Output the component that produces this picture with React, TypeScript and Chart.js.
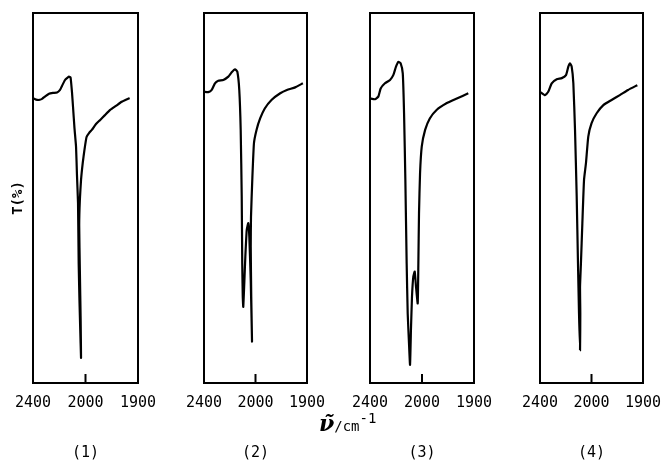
import React, { useEffect, useRef } from 'react';
import { Chart, registerables } from 'chart.js';

Chart.register(...registerables);

// ---- tick labels / texts ----
const xTickWavenumbers = [2400, 2000, 1900];
const xTickLabels = ['2400', '2000', '1900'];
const panelLabels = ['(1)', '(2)', '(3)', '(4)'];
const yAxisTitle = 'T(%)';

// ---- spectrum (1) ----
const spectrum1Wavenumber = [2400, 2377, 2354, 2331, 2309, 2278, 2248, 2217, 2194, 2179, 2156, 2141, 2126, 2114, 2103, 2095, 2084, 2072, 2065, 2057, 2052, 2046, 2040, 2034, 2037, 2043, 2048, 2043, 2034, 2021, 2008, 1998, 1993, 1988, 1980, 1972, 1963, 1953, 1942, 1931, 1924, 1916];
const spectrum1Transmittance = [77.0, 76.6, 76.5, 76.8, 77.4, 78.2, 78.4, 78.5, 79.2, 80.3, 81.9, 82.4, 82.8, 82.6, 78.6, 74.6, 68.9, 63.8, 56.2, 48.6, 32.4, 22.4, 14.3, 6.8, 17.0, 30.5, 42.7, 49.5, 54.9, 59.5, 63.0, 66.5, 67.6, 68.4, 70.0, 71.1, 72.4, 73.8, 74.9, 76.0, 76.5, 77.0];

// ---- spectrum (2) ----
const spectrum2Wavenumber = [2400, 2367, 2340, 2315, 2289, 2250, 2211, 2185, 2159, 2141, 2126, 2115, 2107, 2103, 2099, 2095, 2087, 2079, 2068, 2056, 2048, 2037, 2027, 2033, 2037, 2035, 2025, 2012, 1998, 1991, 1982, 1969, 1952, 1939, 1923, 1908];
const spectrum2Transmittance = [78.7, 78.6, 79.2, 81.0, 81.7, 81.9, 82.8, 84.0, 84.8, 84.1, 79.2, 68.4, 50.4, 32.4, 23.3, 20.6, 27.0, 34.1, 41.4, 43.2, 39.5, 27.8, 11.2, 23.3, 36.8, 44.9, 54.9, 64.8, 68.4, 71.5, 74.2, 76.5, 78.3, 79.2, 79.9, 81.0];

// ---- spectrum (3) ----
const spectrum3Wavenumber = [2400, 2362, 2336, 2318, 2285, 2246, 2221, 2200, 2182, 2164, 2148, 2138, 2128, 2118, 2110, 2100, 2092, 2085, 2077, 2067, 2056, 2046, 2033, 2028, 2023, 2015, 2002, 1994, 1985, 1972, 1953, 1933, 1911];
const spectrum3Transmittance = [76.9, 76.7, 77.4, 79.6, 81.0, 81.9, 83.2, 85.5, 86.8, 86.4, 83.7, 72.9, 54.9, 32.4, 18.8, 10.7, 4.9, 14.3, 23.3, 28.7, 30.1, 26.0, 21.5, 32.4, 45.9, 56.7, 63.9, 68.4, 71.5, 73.8, 75.6, 76.9, 78.3];

// ---- spectrum (4) ----
const spectrum4Wavenumber = [2400, 2361, 2336, 2309, 2270, 2231, 2198, 2180, 2167, 2154, 2141, 2128, 2115, 2105, 2097, 2089, 2087, 2089, 2082, 2071, 2058, 2043, 2025, 2000, 1990, 1977, 1961, 1945, 1929, 1911];
const spectrum4Transmittance = [78.7, 77.8, 78.7, 81.0, 82.1, 82.4, 83.2, 85.5, 86.4, 85.5, 81.0, 68.4, 50.4, 32.4, 18.8, 8.9, 18.8, 26.0, 32.4, 43.2, 54.9, 59.4, 66.6, 70.2, 72.9, 75.1, 76.5, 77.8, 79.2, 80.5];

const spectraWavenumber = [spectrum1Wavenumber, spectrum2Wavenumber, spectrum3Wavenumber, spectrum4Wavenumber];
const spectraTransmittance = [spectrum1Transmittance, spectrum2Transmittance, spectrum3Transmittance, spectrum4Transmittance];

// ---- layout (positions, not data) ----
const PANEL_LEFT = [33, 204, 370, 540];
const PANEL_WIDTH = [105, 103, 104, 103];
const SIDE = 30;
const CANVAS_H = 470;

// scale change at 2000 cm-1: 2400→2000 fills first half, 2000→1900 second half
function toAxisUnit(w: number): number {
  return w >= 2000 ? (2400 - w) / 400 : 1 + (2000 - w) / 100;
}

const framePlugin = {
  id: 'frameAndTick',
  afterDraw(chart: any) {
    const { ctx, chartArea: a, scales } = chart;
    ctx.save();
    ctx.strokeStyle = '#000';
    ctx.lineWidth = 2;
    ctx.strokeRect(a.left, a.top, a.right - a.left, a.bottom - a.top);
    const x = scales.x.getPixelForValue(toAxisUnit(2000));
    ctx.beginPath();
    ctx.moveTo(x, a.bottom);
    ctx.lineTo(x, a.bottom - 9);
    ctx.stroke();
    ctx.restore();
  },
};

function Panel({ idx }: { idx: number }) {
  const ref = useRef<HTMLCanvasElement>(null);
  const w = PANEL_WIDTH[idx] + SIDE * 2;
  useEffect(() => {
    const wn = spectraWavenumber[idx];
    const tr = spectraTransmittance[idx];
    const chart = new Chart(ref.current as HTMLCanvasElement, {
      type: 'line',
      data: {
        datasets: [
          {
            data: wn.map((v, i) => ({ x: toAxisUnit(v), y: tr[i] })),
            borderColor: '#000',
            borderWidth: 2.2,
            pointRadius: 0,
            tension: 0.15,
            fill: false,
          },
        ],
      },
      options: {
        animation: false,
        responsive: false,
        maintainAspectRatio: false,
        layout: { padding: { top: 13, right: SIDE, left: 0, bottom: 0 } },
        plugins: { legend: { display: false }, tooltip: { enabled: false } },
        scales: {
          x: {
            type: 'linear',
            min: 0,
            max: 2,
            afterBuildTicks: (s: any) => {
              s.ticks = xTickWavenumbers.map((v) => ({ value: toAxisUnit(v) }));
            },
            ticks: {
              autoSkip: false,
              maxRotation: 0,
              padding: 11,
              color: '#000',
              font: { family: 'DejaVu Sans Mono', size: 15 },
              callback: (_v: any, i: number) => xTickLabels[i],
            },
            grid: { display: false, drawTicks: false },
            border: { display: false },
            title: {
              display: true,
              text: panelLabels[idx],
              color: '#000',
              font: { family: 'DejaVu Sans Mono', size: 15 },
              padding: { top: 0, bottom: 8 },
            },
            afterFit: (s: any) => {
              s.height = CANVAS_H - 383;
            },
          },
          y: {
            min: 0,
            max: 100,
            ticks: { display: false },
            grid: { display: false, drawTicks: false },
            border: { display: false },
            title: {
              display: idx === 0,
              text: yAxisTitle,
              color: '#000',
              font: { family: 'DejaVu Sans Mono', size: 14, weight: 'bold' },
              padding: { top: 7, bottom: 0 },
            },
            afterFit: (s: any) => {
              s.width = SIDE;
            },
          },
        },
      } as any,
      plugins: [framePlugin],
    });
    return () => chart.destroy();
  }, [idx]);
  return (
    <canvas
      ref={ref}
      width={w}
      height={CANVAS_H}
      style={{ position: 'absolute', left: PANEL_LEFT[idx] - SIDE, top: 0, width: w, height: CANVAS_H }}
    />
  );
}

export default function App() {
  return (
    <div style={{ position: 'absolute', left: 0, top: 0, width: 670, height: 470, background: '#fff', overflow: 'hidden' }}>
      {[0, 1, 2, 3].map((i) => (
        <Panel key={i} idx={i} />
      ))}
      <div
        style={{
          position: 'absolute',
          left: 319,
          top: 412,
          display: 'flex',
          alignItems: 'baseline',
          color: '#000',
          lineHeight: 1,
        }}
      >
        <span style={{ fontFamily: 'DejaVu Serif', fontStyle: 'italic', fontWeight: 'bold', fontSize: 22 }}>{'\u03BD\u0303'}</span>
        <span style={{ fontFamily: 'DejaVu Sans Mono', fontSize: 14 }}>/cm</span>
        <span style={{ fontFamily: 'DejaVu Sans Mono', fontSize: 14, position: 'relative', top: -8 }}>-1</span>
      </div>
    </div>
  );
}
